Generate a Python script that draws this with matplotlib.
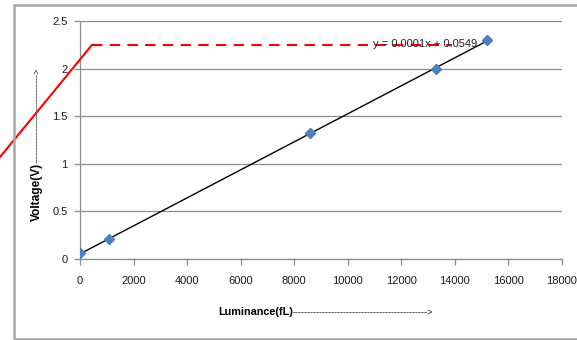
import numpy as np
import matplotlib; matplotlib.use("Agg")
import matplotlib.pyplot as plt
from matplotlib.patches import Rectangle

# ---------- data ----------
luminance = [0, 1100, 8600, 13300, 15200]      # fL
voltage = [0.06, 0.21, 1.32, 2.00, 2.30]        # V
eq_text = "y = 0.0001x + 0.0549"
x_ticks = [0, 2000, 4000, 6000, 8000, 10000, 12000, 14000, 16000, 18000]
y_ticks = [0, 0.5, 1, 1.5, 2, 2.5]
# red hand-drawn marker line (ramp then flat dashed level)
red_ramp_x = [-2990, 450]
red_ramp_y = [1.07, 2.25]
red_flat_x = [450, 13900]
red_flat_y = [2.25, 2.25]

plt.rcParams['font.family'] = ['Liberation Sans', 'DejaVu Sans']

fig = plt.figure(figsize=(5.77, 3.40), dpi=100)
ax = fig.add_axes([80/577, 81/340, 482/577, 238/340])

# outer chart frame
fig.patches.append(Rectangle((14/577, 1.5/340), 1.2, 333.5/340, transform=fig.transFigure,
                             fill=False, edgecolor="#a6a6a6", linewidth=1.8, clip_on=False))

# gridlines
ax.set_axisbelow(True)
ax.yaxis.grid(True, color="#8c8c8c", linewidth=0.9)

# trendline from a least-squares fit of the points
k, b = np.polyfit(luminance, voltage, 1)
xs = np.array([min(luminance), max(luminance)])
ax.plot(xs, k*xs + b, color="black", linewidth=1.0, zorder=3)
ax.plot(luminance, voltage, linestyle="none", marker="D", markersize=5.5,
        color="#4f81bd", markeredgecolor="#4a7ebb", zorder=4)

# red overlay
ax.plot(red_ramp_x, red_ramp_y, color="#ff0000", linewidth=1.5, clip_on=False, zorder=5)
ax.plot(red_flat_x, red_flat_y, color="#ff0000", linewidth=1.5, dashes=(5, 3.5),
        clip_on=False, zorder=2)

ax.text(10950, 2.26, eq_text, fontsize=8, color="#202020", va="center", ha="left",
        family=["Liberation Sans Narrow", "Liberation Sans"], zorder=6)

ax.set_xlim(0, 18000)
ax.set_ylim(0, 2.5)
ax.set_xticks(x_ticks)
ax.set_yticks(y_ticks)
ax.set_xticklabels([str(t) for t in x_ticks])
ax.set_yticklabels(["0", "0.5", "1", "1.5", "2", "2.5"])
ax.tick_params(axis="both", direction="out", length=4, width=0.9, color="#8c8c8c",
               labelsize=8, labelcolor="#1a1a1a")
ax.tick_params(axis="x", pad=8)
ax.tick_params(axis="y", pad=5)
for s in ("top", "right"):
    ax.spines[s].set_visible(False)
for s in ("left", "bottom"):
    ax.spines[s].set_color("#8c8c8c")
    ax.spines[s].set_linewidth(0.9)

# axis titles with trailing dashed arrows
xl = fig.text(218/577, 1 - 312/340, "Luminance(fL)", fontsize=7.8, fontweight="bold",
              ha="left", va="center")
ax.annotate("-" * 45 + ">",
            xy=(1, 0.5), xycoords=xl, ha="left", va="center", fontsize=6.5, color="#1a1a1a")
yl = fig.text(37/577, 1 - 221/340, "Voltage(V)", fontsize=8.6, fontweight="bold",
              rotation=90, ha="center", va="bottom")
ax.annotate("-" * 30 + ">",
            xy=(0.5, 1), xycoords=yl, ha="center", va="bottom", rotation=90,
            fontsize=6.5, color="#1a1a1a")

fig.savefig("out.png", dpi=100)
